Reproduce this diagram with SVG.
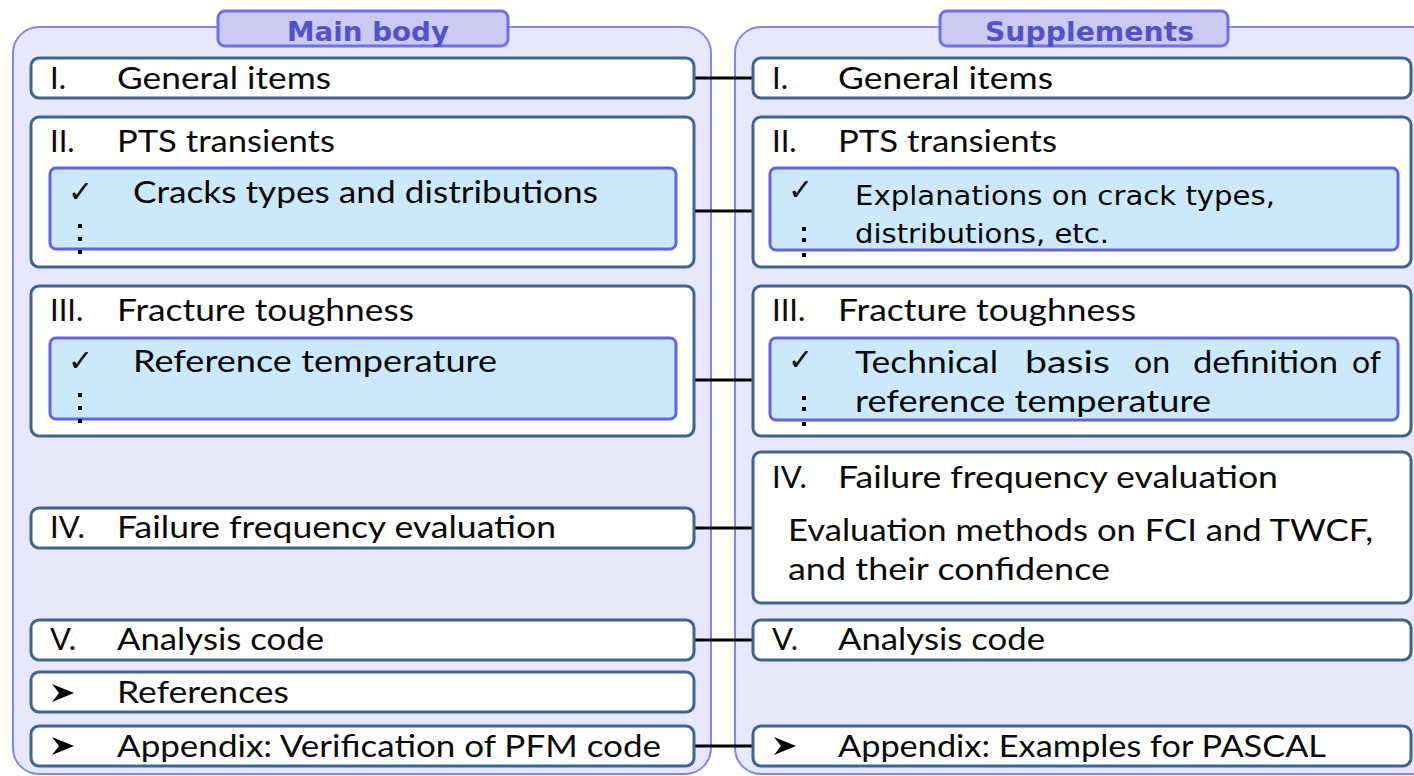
<svg xmlns="http://www.w3.org/2000/svg" width="1414" height="776" viewBox="0 0 1414 776">
  <defs>
    <style>
      .panel { fill: #e8e8fc; stroke: #8585f2; stroke-width: 2; }
      .tab { fill: #cacaf2; stroke: #6f6fe6; stroke-width: 3; }
      .tabtxt { font-family: "DejaVu Sans", "Liberation Sans", sans-serif; font-weight: bold; font-size: 27px; fill: #5252cc; }
      .box { fill: #ffffff; stroke: #3d6590; stroke-width: 3; }
      .inner { fill: #cce9fc; stroke: #6262f0; stroke-width: 3; }
      .t { font-family: Lato, "Liberation Sans", sans-serif; font-size: 31px; fill: #0a0a0a; }
      .t2 { font-family: "DejaVu Sans", "Liberation Sans", sans-serif; font-size: 26px; fill: #050505; }
      .mark { font-family: "DejaVu Sans", sans-serif; font-size: 30px; fill: #111111; }
      .link { stroke: #000000; stroke-width: 3; fill: none; }
      .dot { fill: #000000; }
    </style>
    <path id="arrowhead" d="M0,0 L22,9 L0,18 L7,9 Z" />
  </defs>

  <rect width="1414" height="776" fill="#ffffff"/>

  <!-- left column: main body -->
  <g id="panel-main">
    <rect class="panel" x="13" y="27" width="698" height="747" rx="26"/>
    <rect class="tab" x="218" y="11" width="290" height="35" rx="7"/>
    <text class="tabtxt" x="287" y="41" textLength="162" lengthAdjust="spacingAndGlyphs">Main body</text>
  </g>

  <!-- right column: supplements -->
  <g id="panel-supp">
    <rect class="panel" x="735" y="27" width="720" height="747" rx="26"/>
    <rect class="tab" x="940" y="11" width="288" height="35" rx="7"/>
    <text class="tabtxt" x="985" y="41" textLength="209" lengthAdjust="spacingAndGlyphs">Supplements</text>
  </g>

  <!-- connectors between matching chapters -->
  <g id="connectors">
    <line class="link" x1="694" y1="78" x2="752" y2="78"/>
    <line class="link" x1="676" y1="211" x2="770" y2="211"/>
    <line class="link" x1="676" y1="380" x2="770" y2="380"/>
    <line class="link" x1="694" y1="528" x2="752" y2="528"/>
    <line class="link" x1="694" y1="640" x2="752" y2="640"/>
    <line class="link" x1="694" y1="746" x2="752" y2="746"/>
  </g>

  <!-- main body chapters -->
  <g id="m-general">
    <rect class="box" x="31" y="58" width="663" height="40" rx="8"/>
    <text class="t" x="50" y="89">I.</text>
    <text class="t" x="117" y="89" textLength="214" lengthAdjust="spacingAndGlyphs">General items</text>
  </g>

  <g id="m-pts">
    <rect class="box" x="31" y="117" width="663" height="150" rx="8"/>
    <text class="t" x="50" y="152">II.</text>
    <text class="t" x="117" y="152" textLength="218" lengthAdjust="spacingAndGlyphs">PTS transients</text>
    <rect class="inner" x="50" y="168" width="626" height="81" rx="6"/>
    <text class="mark" x="68" y="202">✓</text>
    <text class="t" x="133" y="203" textLength="465" lengthAdjust="spacingAndGlyphs">Cracks types and distributions</text>
    <rect class="dot" x="78" y="224" width="4" height="4"/>
    <rect class="dot" x="78" y="237" width="4" height="4"/>
    <rect class="dot" x="78" y="250" width="4" height="4"/>
  </g>

  <g id="m-fracture">
    <rect class="box" x="31" y="286" width="663" height="150" rx="8"/>
    <text class="t" x="50" y="321">III.</text>
    <text class="t" x="117" y="321" textLength="297" lengthAdjust="spacingAndGlyphs">Fracture toughness</text>
    <rect class="inner" x="50" y="338" width="626" height="81" rx="6"/>
    <text class="mark" x="68" y="371">✓</text>
    <text class="t" x="133" y="372" textLength="364" lengthAdjust="spacingAndGlyphs">Reference temperature</text>
    <rect class="dot" x="78" y="393" width="4" height="4"/>
    <rect class="dot" x="78" y="406" width="4" height="4"/>
    <rect class="dot" x="78" y="419" width="4" height="4"/>
  </g>

  <g id="m-failure">
    <rect class="box" x="31" y="508" width="663" height="40" rx="8"/>
    <text class="t" x="50" y="538">IV.</text>
    <text class="t" x="117" y="538" textLength="439" lengthAdjust="spacingAndGlyphs">Failure frequency evaluation</text>
  </g>

  <g id="m-code">
    <rect class="box" x="31" y="620" width="663" height="40" rx="8"/>
    <text class="t" x="50" y="650">V.</text>
    <text class="t" x="117" y="650" textLength="207" lengthAdjust="spacingAndGlyphs">Analysis code</text>
  </g>

  <g id="m-refs">
    <rect class="box" x="31" y="672" width="663" height="40" rx="8"/>
    <use href="#arrowhead" x="52" y="684"/>
    <text class="t" x="117" y="703" textLength="172" lengthAdjust="spacingAndGlyphs">References</text>
  </g>

  <g id="m-appendix">
    <rect class="box" x="31" y="726" width="663" height="40" rx="8"/>
    <use href="#arrowhead" x="52" y="737"/>
    <text class="t" x="117" y="757" textLength="544" lengthAdjust="spacingAndGlyphs">Appendix: Verification of PFM code</text>
  </g>

  <!-- supplement chapters -->
  <g id="s-general">
    <rect class="box" x="753" y="58" width="658" height="40" rx="8"/>
    <text class="t" x="772" y="89">I.</text>
    <text class="t" x="838" y="89" textLength="215" lengthAdjust="spacingAndGlyphs">General items</text>
  </g>

  <g id="s-pts">
    <rect class="box" x="753" y="117" width="658" height="150" rx="8"/>
    <text class="t" x="772" y="152">II.</text>
    <text class="t" x="838" y="152" textLength="219" lengthAdjust="spacingAndGlyphs">PTS transients</text>
    <rect class="inner" x="770" y="168" width="628" height="82" rx="6"/>
    <text class="mark" x="788" y="200">✓</text>
    <text class="t2" x="855" y="205" textLength="420" lengthAdjust="spacingAndGlyphs">Explanations on crack types,</text>
    <text class="t2" x="855" y="243" textLength="254" lengthAdjust="spacingAndGlyphs">distributions, etc.</text>
    <rect class="dot" x="802" y="227" width="4" height="4"/>
    <rect class="dot" x="802" y="238" width="4" height="4"/>
    <rect class="dot" x="802" y="253" width="4" height="4"/>
  </g>

  <g id="s-fracture">
    <rect class="box" x="753" y="286" width="658" height="150" rx="8"/>
    <text class="t" x="772" y="321">III.</text>
    <text class="t" x="838" y="321" textLength="298" lengthAdjust="spacingAndGlyphs">Fracture toughness</text>
    <rect class="inner" x="770" y="338" width="628" height="82" rx="6"/>
    <text class="mark" x="788" y="370">✓</text>
    <!-- justified line: each word placed on its own -->
    <text class="t" y="373"><tspan x="855" textLength="143" lengthAdjust="spacingAndGlyphs">Technical</tspan> <tspan x="1025" textLength="85" lengthAdjust="spacingAndGlyphs">basis</tspan> <tspan x="1134" textLength="36" lengthAdjust="spacingAndGlyphs">on</tspan> <tspan x="1193" textLength="145" lengthAdjust="spacingAndGlyphs">definition</tspan> <tspan x="1352" textLength="29" lengthAdjust="spacingAndGlyphs">of</tspan></text>
    <text class="t" x="855" y="412" textLength="356" lengthAdjust="spacingAndGlyphs">reference temperature</text>
    <rect class="dot" x="802" y="396" width="4" height="4"/>
    <rect class="dot" x="802" y="407" width="4" height="4"/>
    <rect class="dot" x="802" y="422" width="4" height="4"/>
  </g>

  <g id="s-failure">
    <rect class="box" x="753" y="452" width="658" height="151" rx="8"/>
    <text class="t" x="772" y="488">IV.</text>
    <text class="t" x="838" y="488" textLength="440" lengthAdjust="spacingAndGlyphs">Failure frequency evaluation</text>
    <text class="t" x="788" y="541" textLength="585" lengthAdjust="spacingAndGlyphs">Evaluation methods on FCI and TWCF,</text>
    <text class="t" x="788" y="580" textLength="322" lengthAdjust="spacingAndGlyphs">and their confidence</text>
  </g>

  <g id="s-code">
    <rect class="box" x="753" y="620" width="658" height="40" rx="8"/>
    <text class="t" x="772" y="650">V.</text>
    <text class="t" x="838" y="650" textLength="207" lengthAdjust="spacingAndGlyphs">Analysis code</text>
  </g>

  <g id="s-appendix">
    <rect class="box" x="753" y="726" width="658" height="40" rx="8"/>
    <use href="#arrowhead" x="774" y="737"/>
    <text class="t" x="838" y="757" textLength="488" lengthAdjust="spacingAndGlyphs">Appendix: Examples for PASCAL</text>
  </g>
</svg>
